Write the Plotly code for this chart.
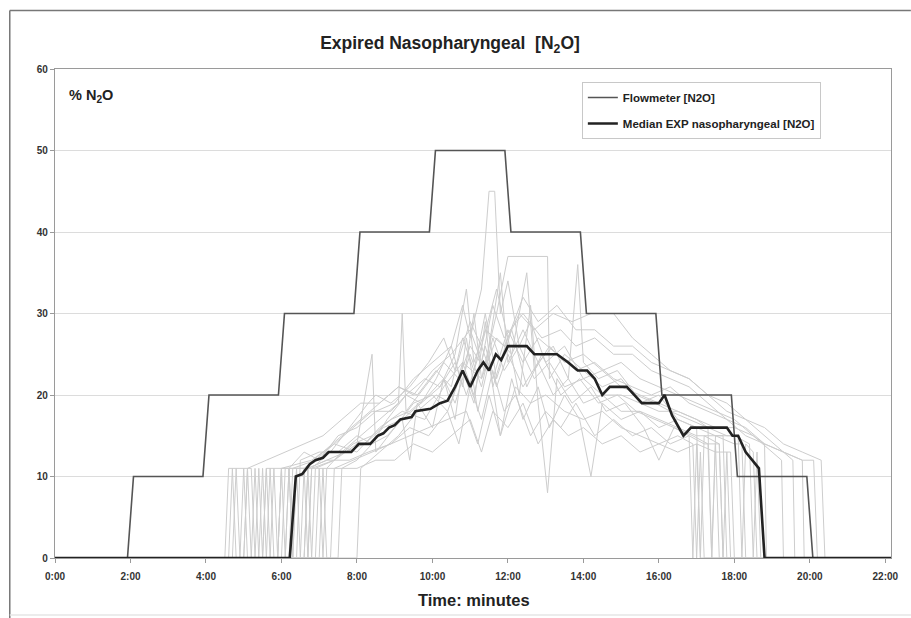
import plotly.graph_objects as go

# ---------------- data ----------------
x_tick_vals = [0, 2, 4, 6, 8, 10, 12, 14, 16, 18, 20, 22]
x_tick_text = ["0:00", "2:00", "4:00", "6:00", "8:00", "10:00", "12:00",
               "14:00", "16:00", "18:00", "20:00", "22:00"]
y_tick_vals = [0, 10, 20, 30, 40, 50, 60]

flow_t = [0, 1.92, 2.08, 3.92, 4.08, 5.92, 6.08, 7.92, 8.08, 9.92, 10.08,
          11.92, 12.08, 13.92, 14.08, 15.92, 16.08, 17.92, 18.08, 19.92, 20.08, 22.15]
flow_v = [0, 0, 10, 10, 20, 20, 30, 30, 40, 40, 50,
          50, 40, 40, 30, 30, 20, 20, 10, 10, 0, 0]

median_t = [0, 6.22, 6.38, 6.55, 6.75, 6.9, 7.1, 7.25, 7.85, 8.05, 8.35, 8.55, 8.7,
            8.85, 9.0, 9.15, 9.45, 9.55, 9.95, 10.2, 10.4, 10.6, 10.8, 11.0, 11.2,
            11.35, 11.5, 11.68, 11.82, 12.0, 12.5, 12.7, 13.3, 13.6, 13.85, 14.1,
            14.3, 14.5, 14.7, 15.15, 15.55, 16.0, 16.15, 16.35, 16.65, 16.85, 17.8,
            17.95, 18.1, 18.3, 18.65, 18.8, 22.15]
median_v = [0, 0, 10, 10.3, 11.5, 12, 12.3, 13, 13, 14, 14, 15, 15.3,
            16, 16.3, 17, 17.3, 18, 18.3, 19, 19.3, 21, 23, 21, 23,
            24, 23, 25, 24.3, 26, 26, 25, 25, 24, 23, 23,
            22, 20, 21, 21, 19, 19, 20, 17.5, 15, 16, 16,
            15, 15, 13, 11, 0, 0]

pt01 = [(0,0),(5.3,0),(5.4,11),(5.5,0),(5.6,11),(6.2,11),(6.6,13),(7.0,12),(7.5,15),(8.0,16),(8.5,18),(9.0,19),(9.5,22),(10.0,24),(10.5,26),(10.8,31),(11.0,27),(11.3,33),(11.5,45),(11.65,45),(11.8,30),(12.0,34),(12.3,26),(12.6,29),(13.0,24),(13.5,26),(14.0,22),(14.5,23),(15.0,21),(15.5,20),(16.0,19),(16.5,18),(17.0,17),(17.3,16),(17.4,0),(17.5,15),(17.7,15),(17.8,0),(22.15,0)]
pt02 = [(0,0),(4.7,0),(4.8,11),(4.9,0),(5.0,0),(5.1,11),(5.2,11),(5.3,0),(5.9,0),(6.0,11),(6.8,12),(7.4,14),(8.0,13),(8.6,16),(9.2,18),(9.8,17),(10.3,21),(10.8,24),(11.3,22),(11.7,30),(12.0,37),(13.05,37),(13.1,22),(13.5,25),(14.0,23),(14.5,21),(15.0,22),(15.5,19),(16.0,20),(16.5,17),(17.0,16),(17.1,0),(17.2,15),(17.6,14),(17.7,0),(22.15,0)]
pt03 = [(0,0),(5.5,0),(5.6,11),(5.7,0),(6.4,0),(6.5,12),(7.0,13),(7.5,13),(8.0,15),(8.4,14),(8.8,17),(9.3,20),(9.8,22),(10.2,21),(10.6,25),(10.9,33),(11.1,24),(11.4,28),(11.9,26),(12.3,30),(12.7,28),(13.2,30),(13.7,29),(14.2,30),(14.8,30),(15.3,27),(15.8,25),(16.3,23),(16.8,22),(17.3,20),(17.8,19),(18.3,17),(18.8,16),(19.3,14),(19.8,13),(20.3,12),(20.4,0),(22.15,0)]
pt04 = [(0,0),(6.0,0),(6.1,11),(6.6,11),(7.1,13),(7.6,15),(8.1,17),(8.6,19),(9.1,21),(9.5,20),(10.0,23),(10.5,25),(11.0,28),(11.3,24),(11.6,31),(11.9,27),(12.4,30),(12.9,27),(13.4,28),(13.8,26),(14.3,27),(14.8,25),(15.3,25),(15.8,23),(16.3,22),(16.8,21),(17.3,19),(17.8,17),(18.3,15),(18.8,14),(19.3,13),(19.8,12),(20.1,12),(20.2,0),(22.15,0)]
pt05 = [(0,0),(4.6,0),(4.7,11),(4.8,0),(5.7,0),(5.8,11),(5.9,0),(6.0,11),(6.7,11),(7.2,12),(7.8,12),(8.3,13),(8.9,14),(9.4,15),(9.9,16),(10.4,17),(10.9,18),(11.2,14),(11.5,20),(11.8,15),(12.2,21),(12.6,19),(13.0,20),(13.5,18),(14.0,17),(14.5,18),(15.0,16),(15.5,15),(16.0,14),(16.5,15),(16.9,14),(17.0,0),(17.1,13),(17.2,0),(22.15,0)]
pt06 = [(0,0),(5.2,0),(5.3,11),(5.4,0),(6.5,0),(6.6,11),(6.7,0),(6.8,11),(7.4,12),(8.0,14),(8.4,25),(8.5,13),(9.0,16),(9.5,19),(10.0,20),(10.4,18),(10.8,23),(11.1,19),(11.4,29),(11.6,21),(12.0,27),(12.3,20),(12.6,31),(12.8,19),(13.05,8),(13.3,22),(13.7,19),(14.2,21),(14.6,18),(15.1,19),(15.6,16),(16.0,12),(16.4,16),(16.9,15),(17.3,14),(17.4,0),(17.5,14),(17.6,0),(22.15,0)]
pt07 = [(0,0),(5.0,0),(5.1,11),(5.2,0),(6.9,0),(7.0,11),(7.1,0),(7.2,11),(7.6,13),(8.1,15),(8.6,17),(9.1,19),(9.2,30),(9.3,18),(9.8,21),(10.3,24),(10.7,22),(11.0,26),(11.4,23),(11.8,35),(12.0,24),(12.4,28),(12.8,24),(13.2,26),(13.6,22),(13.85,36),(14.0,24),(14.4,22),(14.9,23),(15.4,20),(15.9,19),(16.3,18),(16.8,17),(17.3,16),(17.8,15),(18.1,15),(18.2,0),(18.3,14),(18.5,13),(18.6,0),(22.15,0)]
pt08 = [(0,0),(5.9,0),(6.0,11),(6.1,0),(6.2,11),(6.3,0),(7.3,0),(7.4,11),(8.0,11),(8.5,12),(9.0,12),(9.5,14),(10.0,13),(10.5,15),(11.0,17),(11.3,13),(11.6,18),(12.0,16),(12.4,19),(12.8,14),(13.2,17),(13.6,15),(14.0,16),(14.5,14),(15.0,15),(15.5,13),(16.0,14),(16.5,13),(17.0,14),(17.5,13),(17.9,13),(18.0,0),(22.15,0)]
pt09 = [(0,0),(6.2,0),(6.3,11),(6.9,12),(7.4,14),(7.9,16),(8.4,18),(8.9,18),(9.3,20),(9.7,19),(10.1,22),(10.5,26),(10.8,21),(11.1,30),(11.3,22),(11.7,27),(12.1,25),(12.5,35),(12.7,23),(13.1,26),(13.5,24),(14.0,25),(14.5,23),(15.0,24),(15.5,22),(16.0,21),(16.5,20),(17.0,19),(17.5,18),(18.0,17),(18.5,15),(19.0,13),(19.25,12),(19.3,0),(22.15,0)]
pt10 = [(0,0),(5.6,0),(5.7,11),(5.8,0),(6.6,0),(6.7,11),(7.2,12),(7.7,13),(8.2,14),(8.7,16),(9.2,17),(9.7,19),(10.2,21),(10.6,24),(10.9,20),(11.3,26),(11.6,22),(12.0,28),(12.4,24),(12.8,27),(13.3,25),(13.8,23),(14.3,24),(14.8,22),(15.3,21),(15.8,20),(16.3,21),(16.8,19),(17.3,18),(17.8,17),(18.3,16),(18.8,14),(19.3,13),(19.55,12),(19.6,0),(22.15,0)]
pt11 = [(0,0),(6.3,0),(6.4,11),(6.5,0),(7.5,0),(7.6,11),(8.0,12),(8.4,14),(8.8,15),(9.2,17),(9.4,12),(9.6,19),(10.0,16),(10.3,22),(10.6,17),(10.9,27),(11.2,18),(11.5,24),(11.8,15),(12.1,22),(12.4,17),(12.8,21),(13.1,16),(13.5,20),(13.9,17),(14.2,10),(14.5,19),(15.0,17),(15.5,18),(16.0,16),(16.5,17),(17.0,16),(17.5,15),(18.0,15),(18.4,14),(18.5,0),(18.6,13),(18.7,0),(22.15,0)]
pt12 = [(0,0),(4.9,0),(5.0,11),(5.1,0),(6.1,0),(6.2,11),(6.3,0),(6.4,11),(6.9,11),(7.4,11),(7.9,12),(8.4,13),(8.9,14),(9.4,16),(9.9,15),(10.4,18),(10.7,14),(11.0,21),(11.3,17),(11.6,23),(11.9,18),(12.2,20),(12.6,15),(13.0,18),(13.4,16),(13.8,19),(14.3,15),(14.8,17),(15.3,15),(15.8,16),(16.3,14),(16.8,15),(17.2,14),(17.6,14),(17.7,0),(17.8,13),(17.9,0),(22.15,0)]
pt13 = [(0,0),(6.7,0),(6.8,11),(7.3,13),(7.8,16),(8.3,19),(8.5,20),(8.9,19),(9.4,21),(9.9,24),(10.3,27),(10.6,23),(11.0,29),(11.3,26),(11.7,33),(12.0,27),(12.4,32),(12.8,29),(13.3,31),(13.8,28),(14.3,28),(14.8,26),(15.3,26),(15.8,24),(16.3,23),(16.8,22),(17.3,20),(17.8,18),(18.3,17),(18.8,15),(19.3,13),(19.8,12),(19.85,0),(22.15,0)]
pt14 = [(0,0),(4.5,0),(4.6,11),(5.1,11),(5.6,12),(6.1,13),(6.6,14),(7.1,15),(7.6,17),(8.1,19),(8.6,19),(9.1,21),(9.6,20),(10.1,23),(10.5,21),(10.8,27),(11.1,23),(11.4,30),(11.7,22),(12.1,28),(12.5,21),(12.9,25),(13.4,20),(13.9,22),(14.4,19),(14.9,20),(15.4,18),(15.9,17),(16.4,16),(16.8,15),(16.9,0),(17.0,14),(17.1,0),(22.15,0)]
pt15 = [(0,0),(7.0,0),(7.1,11),(7.2,0),(8.0,0),(8.1,11),(8.6,13),(9.1,15),(9.6,18),(10.1,20),(10.5,19),(10.8,24),(11.1,20),(11.4,26),(11.7,21),(12.0,25),(12.4,21),(12.8,24),(13.2,20),(13.6,22),(14.0,19),(14.5,20),(15.0,18),(15.5,18),(16.0,17),(16.5,16),(17.0,15),(17.5,15),(18.0,14),(18.2,14),(18.3,0),(22.15,0)]
pt16 = [(0,0),(5.4,0),(5.5,11),(5.6,0),(6.6,0),(6.7,11),(6.8,0),(6.9,11),(7.4,12),(7.9,14),(8.4,15),(8.9,17),(9.4,18),(9.9,20),(10.3,22),(10.6,19),(11.0,25),(11.3,21),(11.6,27),(11.9,23),(12.3,26),(12.7,22),(13.1,24),(13.5,21),(14.0,22),(14.5,20),(15.0,20),(15.5,19),(16.0,18),(16.5,18),(17.0,17),(17.5,16),(18.0,16),(18.5,15),(18.8,14),(18.85,0),(22.15,0)]

patients = [pt01, pt02, pt03, pt04, pt05, pt06, pt07, pt08,
            pt09, pt10, pt11, pt12, pt13, pt14, pt15, pt16]

# ---------------- figure ----------------
FONT = "Liberation Sans, Arial, sans-serif"
fig = go.Figure()

for p in patients:
    fig.add_trace(go.Scatter(
        x=[a for a, b in p], y=[b for a, b in p], mode="lines",
        line=dict(color="#cdcdcd", width=1), showlegend=False, hoverinfo="skip"))

fig.add_trace(go.Scatter(x=flow_t, y=flow_v, mode="lines", name="Flowmeter [N2O]",
                         legendgroup="a",
                         line=dict(color="#555555", width=1.6)))
fig.add_trace(go.Scatter(x=median_t, y=median_v, mode="lines",
                         name="Median EXP nasopharyngeal [N2O]", legendgroup="b",
                         line=dict(color="#222222", width=2.6)))

W, H = 911, 618
L, R, T, B = 55, 896, 69, 558
pw, ph = R - L, B - T

def px(x):
    return (x - L) / pw

def py(y):
    return (B - y) / ph

fig.update_layout(
    width=W, height=H,
    margin=dict(l=L, r=W - R, t=T, b=H - B),
    paper_bgcolor="white", plot_bgcolor="white",
    font=dict(family=FONT, color="#222222"),
    title=dict(text="Expired Nasopharyngeal  [N<sub>2</sub>O]",
               x=450 / W, xanchor="center", y=1 - 43 / H, yanchor="middle",
               yref="container",
               font=dict(family=FONT, size=17.5, weight="bold", color="#222222")),
    legend=dict(x=px(585), y=py(82), xanchor="left", yanchor="top",
                bgcolor="white", bordercolor="#c8c8c8", borderwidth=1,
                font=dict(family=FONT, size=11.5, weight="bold", color="#222222"),
                tracegroupgap=7, itemwidth=30),
    showlegend=True,
    xaxis=dict(range=[0, 22.15], tickvals=x_tick_vals, ticktext=x_tick_text,
               showgrid=False, zeroline=False, showline=True, linecolor="#9a9a9a",
               linewidth=1.2, mirror=True, ticks="outside", ticklen=4,
               tickcolor="#9a9a9a", ticklabelstandoff=5,
               tickfont=dict(family=FONT, size=10, weight="bold", color="#333333")),
    yaxis=dict(range=[0, 60], tickvals=y_tick_vals, showgrid=True,
               gridcolor="#dcdcdc", gridwidth=1, zeroline=False, showline=True,
               linecolor="#9a9a9a", linewidth=1.2, mirror=True, ticks="outside",
               ticklen=4, tickcolor="#9a9a9a",
               tickfont=dict(family=FONT, size=10, weight="bold", color="#333333")),
    annotations=[
        dict(text="% N<sub>2</sub>O", xref="paper", yref="paper", x=px(67), y=py(96),
             xanchor="left", yanchor="middle", showarrow=False,
             font=dict(family=FONT, size=14.5, weight="bold", color="#222222")),
        dict(text="Time: minutes", xref="paper", yref="paper", x=px(477), y=py(600),
             xanchor="center", yanchor="middle", showarrow=False,
             font=dict(family=FONT, size=16.5, weight="bold", color="#222222")),
    ],
    shapes=[
        dict(type="line", xref="paper", yref="paper", x0=px(9.5), x1=px(W + 5),
             y0=py(10.5), y1=py(10.5), line=dict(color="#777777", width=1.5)),
        dict(type="line", xref="paper", yref="paper", x0=px(9.5), x1=px(9.5),
             y0=py(10.5), y1=py(H + 5), line=dict(color="#777777", width=1.5)),
        dict(type="line", xref="paper", yref="paper", x0=px(9.5), x1=px(W + 5),
             y0=py(615), y1=py(615), line=dict(color="#e6e6e6", width=1.5)),
    ],
)

fig.write_html("out.html")
